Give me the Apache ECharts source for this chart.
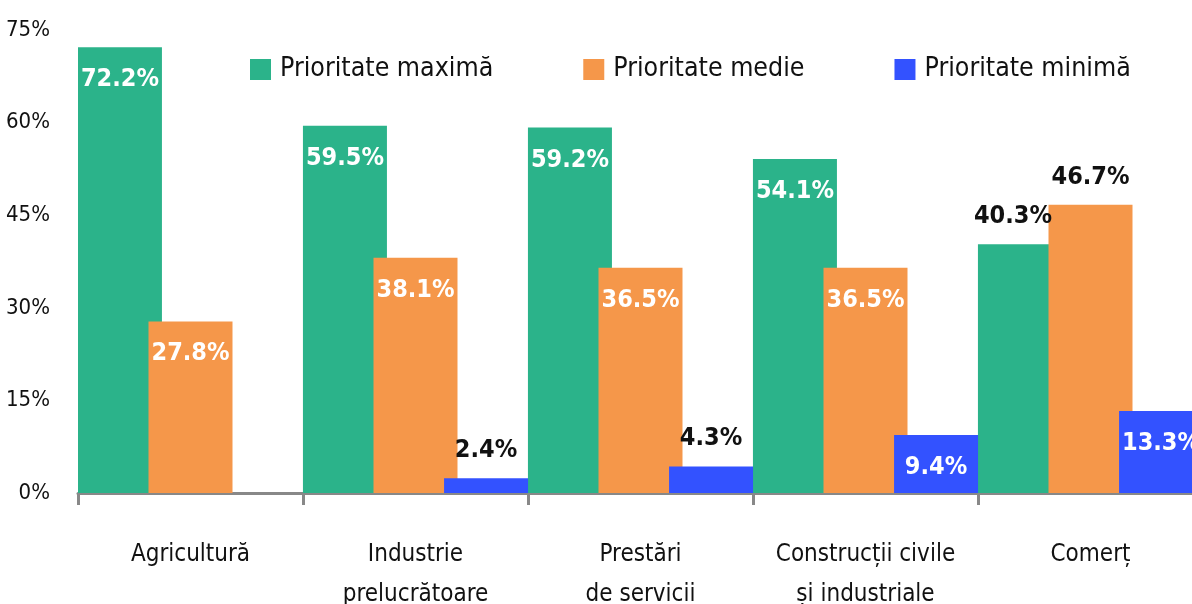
<!DOCTYPE html>
<html>
<head>
<meta charset="utf-8">
<script src="https://cdn.jsdelivr.net/npm/echarts@6/dist/echarts.min.js"></script>
<style>
  html, body { margin: 0; padding: 0; background: #fff; }
  #main { width: 1192px; height: 604px; }
</style>
</head>
<body>
<div id="main"></div>
<script>
var categories = ['Agricultură', 'Industrie\nprelucrătoare', 'Prestări\nde servicii', 'Construcții civile\nși industriale', 'Comerț'];
var seriesNames = ['Prioritate maximă', 'Prioritate medie', 'Prioritate minimă'];
var maxValues = [72.2, 59.5, 59.2, 54.1, 40.3];
var medValues = [27.8, 38.1, 36.5, 36.5, 46.7];
var minValues = [0, 2.4, 4.3, 9.4, 13.3];
var yTicks = [0, 15, 30, 45, 60, 75];

// which points get their label above the bar (black) instead of inside (white)
var outsideLabels = [[4], [4], [1, 2]];
var colors = ['#2bb38a', '#f5974a', '#3352ff'];
var font = '"DejaVu Sans Condensed", "Liberation Sans Narrow", sans-serif';

var myChart = echarts.init(document.getElementById('main'));

function buildData(values, idx) {
    return values.map(function (v, i) {
        var outside = outsideLabels[idx].indexOf(i) >= 0;
        return {
            value: v,
            label: {
                show: v > 0,
                position: outside ? 'top' : 'insideTop',
                distance: outside ? 15 : 20,
                // green label in the last group is pushed left by the orange bar
                offset: (outside && idx === 0) ? [-7, 0] : [0, 0],
                color: outside ? '#111' : '#fff'
            }
        };
    });
}

var allValues = [maxValues, medValues, minValues];
var series = allValues.map(function (vals, idx) {
    return {
        name: seriesNames[idx],
        type: 'bar',
        barWidth: 84,
        barGap: '-16%',
        itemStyle: { color: colors[idx] },
        label: {
            fontFamily: font,
            fontWeight: 'bold',
            fontSize: 25,
            formatter: function (p) { return p.value.toFixed(1) + '%'; }
        },
        data: buildData(vals, idx)
    };
});

var option = {
    animation: false,
    textStyle: { fontFamily: font },
    legend: {
        left: 245,
        top: 51,
        width: 1000,
        itemWidth: 21,
        itemHeight: 21,
        itemGap: 90,
        icon: 'rect',
        textStyle: { fontSize: 26.5, color: '#111', fontFamily: font, padding: [0, 0, 0, 4] },
        data: seriesNames
    },
    grid: {
        left: 78,
        top: 30,
        width: 1125,
        height: 463,
        outerBoundsMode: 'none'
    },
    xAxis: {
        type: 'category',
        data: categories,
        axisLine: { lineStyle: { color: '#888', width: 3 } },
        axisTick: { show: true, length: 12, lineStyle: { color: '#888', width: 3 } },
        axisLabel: {
            interval: 0,
            fontSize: 24,
            color: '#111',
            margin: 42,
            lineHeight: 40,
            fontFamily: font
        }
    },
    yAxis: {
        type: 'value',
        min: yTicks[0],
        max: yTicks[yTicks.length - 1],
        interval: 15,
        axisLine: { show: false },
        axisTick: { show: false },
        splitLine: { show: false },
        axisLabel: {
            fontSize: 22,
            color: '#111',
            margin: 28,
            fontFamily: font,
            formatter: '{value}%'
        }
    },
    series: series
};
myChart.setOption(option);
</script>
</body>
</html>
